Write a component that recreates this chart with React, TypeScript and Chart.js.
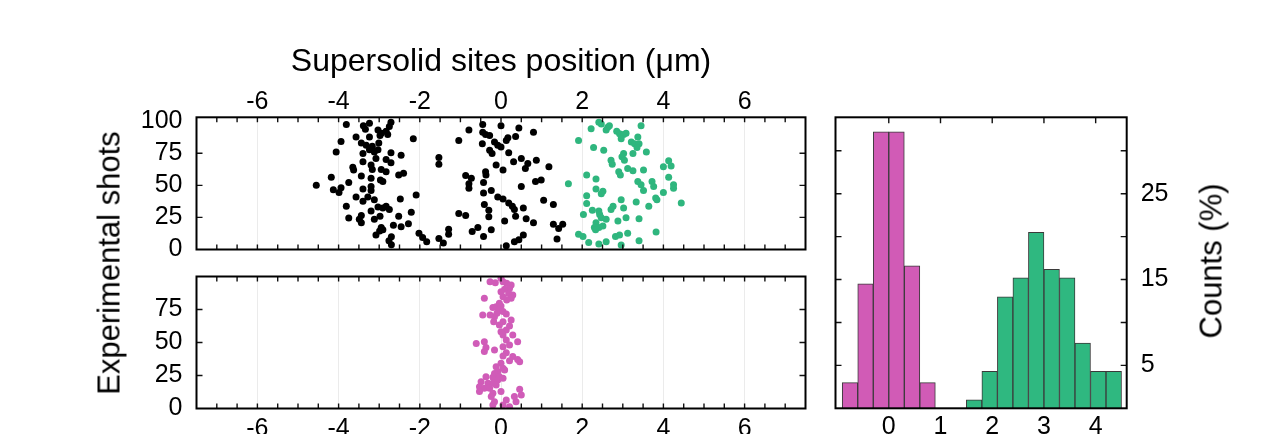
import React, { useEffect, useRef } from 'react';
import { Chart, registerables } from 'chart.js';

Chart.register(...registerables);

const FONT = '"Liberation Sans", Arial, Helvetica, sans-serif';
const GREEN = '#2fb67e';
const MAGENTA = '#d05cb8';
const HIST_MAGENTA = '#d15bb6';
const HIST_GREEN = '#2fb880';

// ---- tick labels ----
const POSITION_TICKS = [-6, -4, -2, 0, 2, 4, 6];
const TOP_SHOT_TICKS = [0, 25, 50, 75, 100];
const BOTTOM_SHOT_TICKS = [0, 25, 50, 75];
const HIST_X_TICKS = [0, 1, 2, 3, 4];
const HIST_Y_TICKS = [5, 15, 25];

// ---- top panel: black sites (position µm, shot index) ----
const blackPoints: number[][] = [
  [-3.81, 97.3], [-3.39, 96.5], [-3.24, 98.3], [-3.34, 93.7], [-3.03, 93.2], [-2.95, 90.6], [-2.83, 92.2],
  [-2.75, 95.8], [-2.71, 99.1], [-2.79, 89.6], [-2.98, 88.8], [-3.94, 84.2], [-3.57, 87.6], [-3.44, 82.9],
  [-3.24, 87.6], [-3.32, 81.2], [-3.17, 80.4], [-3.01, 82.9], [-3.2, 78.6], [-4.06, 76.0], [-3.4, 74.7],
  [-3.24, 77.8], [-3.12, 76.0], [-3.03, 77.8], [-2.71, 75.3], [-2.46, 73.5], [-3.08, 70.9], [-2.83, 70.1],
  [-2.71, 67.6], [-1.53, 71.7], [-1.53, 66.5], [-2.16, 86.3], [-3.65, 64.0], [-3.63, 61.9], [-3.4, 68.3],
  [-3.2, 65.8], [-3.17, 62.4], [-2.95, 62.4], [-2.83, 60.6], [-2.52, 58.1], [-2.4, 59.4], [-4.18, 56.3],
  [-3.75, 52.2], [-3.44, 57.3], [-3.2, 55.5], [-2.97, 54.2], [-2.91, 52.9], [-4.55, 50.1], [-4.13, 46.5],
  [-3.99, 44.5], [-3.94, 48.1], [-3.4, 47.1], [-3.2, 49.1], [-3.2, 46.0], [-3.57, 40.9], [-3.28, 40.9],
  [-3.12, 38.8], [-3.4, 37.6], [-2.48, 39.4], [-2.09, 42.4], [-3.81, 33.7], [-3.03, 33.2], [-2.91, 32.4],
  [-2.83, 33.7], [-2.75, 31.2], [-3.2, 29.9], [-3.44, 26.5], [-3.75, 24.5], [-3.49, 23.5], [-3.44, 20.9],
  [-3.12, 23.5], [-2.98, 26.0], [-2.52, 26.0], [-2.21, 29.1], [-2.65, 18.8], [-2.46, 17.8], [-2.28, 20.1],
  [-2.95, 17.1], [-2.99, 14.5], [-2.91, 15.3], [-3.08, 11.2], [-2.7, 9.9], [-2.76, 6.8], [-2.7, 3.7],
  [-2.02, 12.7], [-1.93, 9.4], [-1.83, 6.0], [-1.53, 8.6], [-1.42, 5.0], [-1.29, 15.8], [-1.29, 11.9],
  [-1.04, 85.0], [-0.79, 93.2], [-0.45, 97.3], [0.0, 96.5], [-0.45, 91.4], [-0.38, 89.6], [-0.46, 82.4],
  [-0.28, 88.8], [-0.16, 83.7], [-0.08, 81.2], [0.0, 79.9], [0.13, 85.0], [-0.28, 77.3], [-0.22, 74.7],
  [-0.12, 65.8], [0.05, 61.9], [-0.38, 60.6], [-0.37, 58.1], [-0.87, 57.6], [-0.73, 55.5], [-0.79, 51.2],
  [-0.79, 47.8], [-0.43, 52.2], [-0.24, 46.0], [-0.43, 44.0], [-0.08, 40.9], [0.05, 39.4], [-0.41, 35.0],
  [-0.3, 30.6], [-0.3, 25.5], [-1.04, 28.1], [-0.87, 26.5], [0.09, 22.2], [-0.71, 14.0], [-0.57, 17.1],
  [-0.24, 15.3], [-0.43, 10.1], [0.13, 2.9], [0.44, 94.7], [0.17, 87.1], [0.36, 88.1], [0.8, 91.4],
  [0.19, 75.3], [0.31, 68.3], [0.5, 70.9], [0.66, 67.1], [0.6, 63.2], [0.87, 69.6], [1.18, 64.5],
  [0.85, 52.9], [0.99, 54.2], [0.5, 49.1], [0.19, 36.3], [0.28, 33.7], [0.33, 31.2], [0.36, 26.0],
  [0.55, 32.4], [0.62, 24.0], [0.8, 20.9], [1.05, 38.3], [1.29, 35.0], [1.29, 19.6], [1.42, 16.3],
  [1.52, 19.6], [0.55, 11.2], [0.44, 7.6], [0.33, 6.0], [1.38, 8.1],
];

// ---- top panel: green sites ----
const greenPoints: number[][] = [
  [1.91, 85.0], [2.22, 94.0], [2.41, 99.1], [2.47, 97.8], [2.59, 93.2], [2.63, 95.3], [2.67, 96.5],
  [2.85, 92.2], [2.92, 90.1], [3.02, 89.6], [3.08, 90.6], [2.96, 86.3], [3.21, 83.7], [3.29, 82.4],
  [3.37, 87.6], [3.4, 82.4], [3.35, 79.4], [3.45, 96.5], [3.58, 76.0], [2.28, 79.4], [2.53, 77.3],
  [3.02, 74.7], [2.98, 72.2], [3.25, 74.7], [2.71, 69.6], [2.74, 66.5], [3.04, 69.6], [3.51, 61.9],
  [3.12, 63.2], [3.25, 61.4], [2.9, 60.6], [2.94, 58.1], [4.0, 64.5], [4.13, 69.1], [4.19, 65.0],
  [4.13, 56.3], [4.25, 50.4], [4.25, 47.8], [1.66, 51.2], [2.11, 58.1], [2.34, 55.0], [2.34, 47.1],
  [2.51, 45.3], [2.47, 43.5], [2.11, 41.9], [2.11, 35.8], [3.37, 52.9], [3.45, 50.4], [3.51, 46.0],
  [3.72, 52.9], [3.76, 49.1], [4.0, 44.5], [3.81, 40.1], [3.84, 38.8], [3.64, 33.7], [3.33, 37.1],
  [2.96, 38.8], [4.44, 36.3], [2.25, 30.6], [2.03, 27.3], [2.41, 29.9], [2.43, 27.3], [2.47, 24.7],
  [2.59, 23.5], [2.76, 33.7], [2.71, 31.2], [3.02, 32.4], [2.88, 22.2], [3.08, 24.7], [3.4, 24.0],
  [2.34, 20.9], [2.3, 17.1], [2.41, 17.1], [2.51, 18.3], [2.33, 15.3], [2.82, 10.1], [2.92, 11.2],
  [3.12, 12.7], [3.82, 13.7], [1.91, 11.9], [2.02, 10.1], [2.16, 5.5], [2.41, 4.2], [2.59, 6.0],
  [2.96, 3.5], [3.4, 6.8],
];

// ---- bottom panel: magenta sites ----
const magentaPoints: number[][] = [
  [-0.27, 96.1], [-0.14, 95.3], [0.0, 98.6], [0.05, 96.1], [0.14, 94.8], [0.25, 93.6], [0.21, 91.0],
  [0.09, 90.3], [0.0, 88.5], [0.19, 87.2], [0.29, 86.0], [0.25, 83.5], [0.14, 82.2], [0.05, 84.7],
  [-0.41, 83.5], [-0.04, 79.7], [-0.12, 77.1], [-0.2, 76.6], [0.0, 77.7], [-0.05, 74.6], [-0.1, 72.1],
  [-0.16, 69.6], [-0.27, 70.8], [-0.45, 70.8], [0.05, 73.4], [0.13, 71.6], [0.25, 67.0], [-0.18, 65.8],
  [0.05, 65.8], [-0.04, 63.3], [0.21, 62.5], [0.13, 59.5], [0.0, 58.2], [0.05, 55.7], [0.29, 55.7],
  [0.13, 51.9], [0.41, 50.6], [-0.41, 50.6], [-0.61, 49.3], [-0.37, 46.3], [0.21, 48.1], [0.05, 46.8],
  [-0.41, 43.1], [-0.16, 44.3], [0.13, 42.3], [0.05, 39.8], [0.29, 39.3], [0.41, 37.2], [0.21, 36.2],
  [0.46, 35.5], [0.0, 34.2], [-0.12, 31.7], [0.05, 30.4], [-0.08, 27.9], [-0.16, 26.6], [0.09, 29.2],
  [-0.37, 24.1], [-0.2, 23.6], [-0.04, 24.1], [-0.49, 20.3], [-0.32, 19.1], [-0.2, 19.1], [-0.08, 21.6],
  [0.05, 22.9], [-0.53, 16.5], [-0.12, 17.8], [-0.41, 15.3], [-0.53, 12.8], [-0.28, 15.3], [-0.2, 11.5],
  [0.0, 12.8], [0.46, 14.5], [0.5, 10.2], [0.33, 9.0], [0.37, 5.2], [-0.24, 9.0], [-0.16, 5.2],
  [-0.2, 2.7], [0.05, 2.7], [0.13, 6.4], [0.21, 1.4],
];

// ---- histogram (counts %) ----
const magentaBinCenters = [-0.75, -0.45, -0.15, 0.15, 0.45, 0.75];
const magentaCounts = [3.0, 14.5, 32.2, 32.2, 16.6, 3.0];
const greenBinCenters = [1.65, 1.95, 2.25, 2.55, 2.85, 3.15, 3.45, 3.75, 4.05, 4.35];
const greenCounts = [1.0, 4.3, 13.0, 15.2, 20.5, 16.2, 15.2, 7.6, 4.3, 4.3];

// minor tick marks (styling only)
const POSITION_MINOR = Array.from({ length: 29 }, (_, i) => -7 + i * 0.5);
const SHOT_MARKS = [25, 50, 75];
const HIST_Y_MARKS = [5, 10, 15, 20, 25, 30];

const frameTicks = {
  id: 'frameTicks',
  afterDatasetsDraw(chart: any, _args: any, opts: any) {
    const { ctx, chartArea } = chart;
    const { left, right, top, bottom } = chartArea;
    const xs = chart.scales.x;
    const ys = chart.scales.y;
    ctx.save();
    ctx.strokeStyle = '#111';
    ctx.lineWidth = 1.4;
    ctx.beginPath();
    for (const v of opts.xMarks || []) {
      const px = xs.getPixelForValue(v);
      const len = opts.xLen || 5;
      if (opts.top) { ctx.moveTo(px, top); ctx.lineTo(px, top + len); }
      if (opts.bottom) { ctx.moveTo(px, bottom); ctx.lineTo(px, bottom - len); }
    }
    for (const v of opts.yMarks || []) {
      const py = ys.getPixelForValue(v);
      const len = opts.yLen || 6;
      ctx.moveTo(left, py); ctx.lineTo(left + len, py);
      ctx.moveTo(right, py); ctx.lineTo(right - len, py);
    }
    ctx.stroke();
    ctx.lineWidth = 2;
    ctx.strokeStyle = '#000';
    ctx.strokeRect(left, top, right - left, bottom - top);
    ctx.restore();
  },
};

const zeroPad = (s: any) => {
  s.paddingLeft = 0; s.paddingRight = 0; s.paddingTop = 0; s.paddingBottom = 0;
};
const fixedTicks = (vals: number[]) => (axis: any) => {
  axis.ticks = vals.map((v) => ({ value: v }));
};
const tickFont = { size: 25, lineHeight: 1, family: FONT };

function scatterDataset(points: number[][], color: string) {
  return {
    data: points.map(([x, y]) => ({ x, y })),
    backgroundColor: color,
    borderWidth: 0,
    pointRadius: 3.5,
    pointHoverRadius: 3.5,
  };
}

function configTop(): any {
  return {
    type: 'scatter',
    data: { datasets: [scatterDataset(blackPoints, '#000'), scatterDataset(greenPoints, GREEN)] },
    options: {
      responsive: false, animation: false, events: [],
      layout: { padding: { left: 0, top: 0, right: 24.5, bottom: 12.5 } },
      plugins: {
        legend: { display: false }, tooltip: { enabled: false },
        frameTicks: { xMarks: POSITION_MINOR, yMarks: SHOT_MARKS, top: true, bottom: true, xLen: 5, yLen: 6 },
      },
      scales: {
        x: {
          type: 'linear', position: 'top', min: -7.5, max: 7.5,
          afterBuildTicks: fixedTicks(POSITION_TICKS),
          afterFit: (s: any) => { s.height = 117.3; zeroPad(s); },
          grid: { color: '#ebebeb', drawTicks: false, lineWidth: 1 },
          border: { display: false },
          ticks: { padding: 2.5, font: tickFont, color: '#000', maxRotation: 0, autoSkip: false },
          title: {
            display: true, text: 'Supersolid sites position (μm)', color: '#000',
            font: { size: 32, lineHeight: 1.2, family: FONT }, padding: { top: 43, bottom: 0 },
          },
        },
        y: {
          type: 'linear', position: 'left', min: 0, max: 103,
          afterBuildTicks: fixedTicks(TOP_SHOT_TICKS),
          afterFit: (s: any) => { s.width = 196.5; zeroPad(s); },
          grid: { display: false, drawTicks: false },
          border: { display: false },
          ticks: { padding: 14, font: tickFont, color: '#000', autoSkip: false },
        },
      },
    },
    plugins: [frameTicks],
  };
}

function configBottom(): any {
  return {
    type: 'scatter',
    data: { datasets: [scatterDataset(magentaPoints, MAGENTA)] },
    options: {
      responsive: false, animation: false, events: [],
      layout: { padding: { left: 0, top: 14.5, right: 24.5, bottom: 0 } },
      plugins: {
        legend: { display: false }, tooltip: { enabled: false },
        frameTicks: { xMarks: POSITION_MINOR, yMarks: SHOT_MARKS, top: true, bottom: true, xLen: 5, yLen: 6 },
      },
      scales: {
        x: {
          type: 'linear', position: 'bottom', min: -7.5, max: 7.5,
          afterBuildTicks: fixedTicks(POSITION_TICKS),
          afterFit: (s: any) => { s.height = 25.5; zeroPad(s); },
          grid: { color: '#ebebeb', drawTicks: false, lineWidth: 1 },
          border: { display: false },
          ticks: { padding: 8, font: tickFont, color: '#000', maxRotation: 0, autoSkip: false },
        },
        y: {
          type: 'linear', position: 'left', min: 0, max: 100,
          afterBuildTicks: fixedTicks(BOTTOM_SHOT_TICKS),
          afterFit: (s: any) => { s.width = 196.5; zeroPad(s); },
          grid: { display: false, drawTicks: false },
          border: { display: false },
          ticks: { padding: 14, font: tickFont, color: '#000', autoSkip: false },
        },
      },
    },
    plugins: [frameTicks],
  };
}

function configHist(): any {
  const barCommon = {
    borderColor: '#3a3a3a', borderWidth: 1, barPercentage: 1, categoryPercentage: 1, grouped: false,
  };
  return {
    type: 'bar',
    data: {
      datasets: [
        { ...barCommon, backgroundColor: HIST_MAGENTA, data: magentaBinCenters.map((x, i) => ({ x, y: magentaCounts[i] })) },
        { ...barCommon, backgroundColor: HIST_GREEN, data: greenBinCenters.map((x, i) => ({ x, y: greenCounts[i] })) },
      ],
    },
    options: {
      responsive: false, animation: false, events: [],
      layout: { padding: { left: 5.5, top: 117.3, right: 0, bottom: 0 } },
      plugins: {
        legend: { display: false }, tooltip: { enabled: false },
        frameTicks: { xMarks: HIST_X_TICKS, yMarks: HIST_Y_MARKS, top: true, bottom: false, xLen: 6, yLen: 6 },
      },
      scales: {
        x: {
          type: 'linear', position: 'bottom', min: -1.03, max: 4.6, offset: false,
          afterBuildTicks: fixedTicks(HIST_X_TICKS),
          afterFit: (s: any) => { s.height = 25.7; zeroPad(s); },
          grid: { display: false, drawTicks: false },
          border: { display: false },
          ticks: { padding: 6, font: tickFont, color: '#000', maxRotation: 0, autoSkip: false },
        },
        y: {
          type: 'linear', position: 'right', min: 0, max: 33.9,
          afterBuildTicks: fixedTicks(HIST_Y_TICKS),
          afterFit: (s: any) => { s.width = 152.3; zeroPad(s); },
          grid: { display: false, drawTicks: false },
          border: { display: false },
          ticks: { padding: 14, font: tickFont, color: '#000', autoSkip: false },
        },
      },
    },
    plugins: [frameTicks],
  };
}

export default function App() {
  const topRef = useRef<HTMLCanvasElement>(null);
  const bottomRef = useRef<HTMLCanvasElement>(null);
  const histRef = useRef<HTMLCanvasElement>(null);

  useEffect(() => {
    Chart.defaults.font.family = FONT;
    const charts = [
      new Chart(topRef.current as HTMLCanvasElement, configTop()),
      new Chart(bottomRef.current as HTMLCanvasElement, configBottom()),
      new Chart(histRef.current as HTMLCanvasElement, configHist()),
    ];
    return () => charts.forEach((c) => c.destroy());
  }, []);

  const rotated = (text: string, cx: number, cy: number) => (
    <div
      style={{
        position: 'absolute', left: cx, top: cy, transform: 'translate(-50%, -50%) rotate(-90deg)',
        whiteSpace: 'nowrap', fontFamily: FONT, fontSize: 31, lineHeight: 1, color: '#000',
      }}
    >
      {text}
    </div>
  );

  return (
    <div style={{ position: 'absolute', left: 0, top: 0, width: 1279, height: 434, overflow: 'hidden', background: '#fff' }}>
      <canvas ref={topRef} width={830} height={262} style={{ position: 'absolute', left: 0, top: 0, width: 830, height: 262 }} />
      <canvas ref={bottomRef} width={830} height={172} style={{ position: 'absolute', left: 0, top: 262, width: 830, height: 172 }} />
      <canvas ref={histRef} width={449} height={434} style={{ position: 'absolute', left: 830, top: 0, width: 449, height: 434 }} />
      {rotated('Experimental shots', 109, 263)}
      {rotated('Counts (%)', 1211, 261)}
    </div>
  );
}
